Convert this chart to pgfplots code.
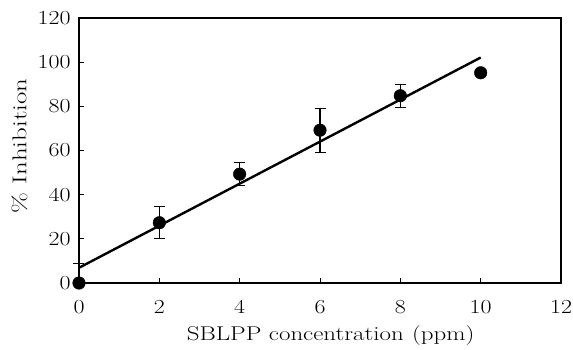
\documentclass[border=0pt]{standalone}
\usepackage{fontspec}
\usepackage{graphicx}
\usepackage{pgfplots}
\pgfplotsset{compat=1.18}
\begin{document}
\begin{tikzpicture}[x=1bp,y=1bp]
\path[use as bounding box] (-79,-66) rectangle (494,283);
\begin{axis}[
  at={(0,0)}, anchor=south west,
  scale only axis, width=482bp, height=265bp,
  xmin=0, xmax=12, ymin=0, ymax=120,
  xtick={0,2,...,12}, ytick={0,20,...,120},
  /pgf/number format/assume math mode=true,
  xticklabel={\scalebox{1.2}[1]{\pgfmathprintnumber{\tick}}},
  yticklabel={\scalebox{1.2}[1]{\pgfmathprintnumber{\tick}}},
  tick align=inside, xtick pos=bottom, ytick pos=left,
  major tick length=5bp,
  tick style={black, line width=0.8pt},
  axis line style={black, line width=1.2pt},
  ticklabel style={font=\fontsize{20}{22}\selectfont},
  xticklabel style={yshift=-14bp},
  yticklabel style={xshift=-5bp},
  xlabel={\scalebox{1.25}[1]{SBLPP concentration\,\,(ppm)}},
  ylabel={\scalebox{1.35}[1]{\% Inhibition}},
  label style={font=\fontsize{20}{22}\selectfont},
  xlabel style={at={(axis description cs:0.522,0)}, anchor=north, yshift=-39bp},
  ylabel style={at={(axis description cs:0,0.517)}, anchor=south, yshift=48bp},
  clip=false,
]
\addplot[black, line width=2.4pt] coordinates {(0,6.9) (10,102.1)};
\addplot[only marks, mark=*, mark size=6.3bp, black,
  error bars/.cd, y dir=both, y explicit,
  error bar style={line width=1.2pt},
  error mark options={rotate=90, mark size=5.5bp, line width=1.2pt}]
  coordinates {
  (0,0) += (0,9) -= (0,0)
  (2,27.3) +- (0,7.3)
  (4,49.3) +- (0,5.2)
  (6,69.2) +- (0,10)
  (8,84.8) +- (0,5.2)
  (10,95.2) +- (0,0)
};
\end{axis}
\end{tikzpicture}
\end{document}
